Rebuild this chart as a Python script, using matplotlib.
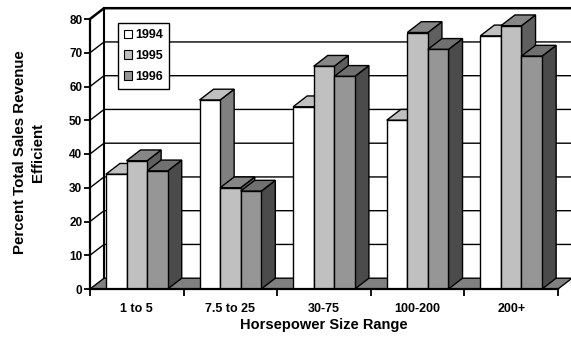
import matplotlib.pyplot as plt
from matplotlib.patches import Polygon, Patch

plt.rcParams['font.family'] = ['Liberation Sans', 'DejaVu Sans']
plt.rcParams['font.weight'] = 'bold'

# data
categories = ['1 to 5', '7.5 to 25', '30-75', '100-200', '200+']
years = ['1994', '1995', '1996']
v1994 = [34, 56, 54, 50, 75]
v1995 = [38, 30, 66, 76, 78]
v1996 = [35, 29, 63, 71, 69]
series = [v1994, v1995, v1996]
yticks = [0, 10, 20, 30, 40, 50, 60, 70, 80]

front_col = ['#ffffff', '#c0c0c0', '#969696']
top_col = ['#c0c0c0', '#868686', '#707070']
side_col = ['#808080', '#5f5f5f', '#4b4b4b']

DX = 0.15   # depth offset in category units
DY = 3.2    # depth offset in value units
W = 0.22    # bar width

fig = plt.figure(figsize=(5.71, 3.37), dpi=100)
ax = fig.add_axes([90/571, 48/337, 468/571, 270/337])
ax.set_xlim(-0.5, 4.5)
ax.set_ylim(0, 80)

x0, x1 = -0.5, len(categories) - 0.5

# back wall
ax.add_patch(Polygon([(x0+DX, DY), (x1+DX, DY), (x1+DX, 80+DY), (x0+DX, 80+DY)],
                     closed=True, fc='white', ec='none', zorder=0.5, clip_on=False))
for v in yticks[1:-1]:
    ax.plot([x0, x0+DX, x1+DX], [v, v+DY, v+DY], color='black', lw=1.0,
            zorder=0.6, clip_on=False)
# top edge and back left edge
ax.plot([x0, x0+DX, x1+DX], [80, 80+DY, 80+DY], color='black', lw=1.8,
        zorder=0.7, clip_on=False)
ax.plot([x0+DX, x0+DX], [DY, 80+DY], color='black', lw=1.5, zorder=0.7, clip_on=False)

# floor
ax.add_patch(Polygon([(x0, 0), (x1, 0), (x1+DX, DY), (x0+DX, DY)],
                     closed=True, fc='#808080', ec='black', lw=1.0, zorder=0.8, clip_on=False))

# bars with fake depth
for i in range(len(categories)):
    for j, vals in enumerate(series):
        h = vals[i]
        xl = i - 1.5*W + j*W
        xr = xl + W
        z = 2 + (i*3 + j) * 0.01
        bar = ax.bar(xl, h, width=W, align='edge', color=front_col[j],
                     edgecolor='black', linewidth=1.0)[0]
        bar.set_zorder(z + 0.003)
        ax.add_patch(Polygon([(xr, 0), (xr+DX, DY), (xr+DX, h+DY), (xr, h)],
                             closed=True, fc=side_col[j], ec='black', lw=1.0,
                             zorder=z, clip_on=False))
        ax.add_patch(Polygon([(xl, h), (xr, h), (xr+DX, h+DY), (xl+DX, h+DY)],
                             closed=True, fc=top_col[j], ec='black', lw=1.0,
                             zorder=z + 0.001, clip_on=False))

# axes
for s in ['top', 'right']:
    ax.spines[s].set_visible(False)
ax.spines['left'].set_linewidth(1.6)
ax.spines['bottom'].set_linewidth(1.6)
ax.spines['left'].set_zorder(3)
ax.spines['bottom'].set_zorder(3)

ax.set_yticks(yticks)
ax.tick_params(axis='y', direction='out', length=4, width=1.3, pad=1.5, labelsize=8.5)
ax.set_xticks([k - 0.5 for k in range(len(categories) + 1)])
ax.set_xticklabels([])
ax.tick_params(axis='x', which='major', direction='out', length=5, width=1.3)
ax.set_xticks(range(len(categories)), minor=True)
ax.set_xticklabels(categories, minor=True)
ax.tick_params(axis='x', which='minor', length=0, pad=10, labelsize=9)

ax.set_xlabel('Horsepower Size Range', fontsize=10.5, fontweight='bold', labelpad=2)
fig.text(29/571, 1 - 152/337, 'Percent Total Sales Revenue\nEfficient', rotation=90,
         ha='center', va='center', multialignment='center', fontsize=10.8,
         fontweight='bold', linespacing=1.45)

handles = [Patch(fc=front_col[j], ec='black', lw=0.8) for j in range(3)]
leg = ax.legend(handles, years, loc='upper left', bbox_to_anchor=(0.06, 0.985),
                fancybox=False, edgecolor='black', framealpha=1, fontsize=9,
                handlelength=0.65, handleheight=0.65, handletextpad=0.2,
                labelspacing=0.7, borderpad=0.5, borderaxespad=0)
leg.get_frame().set_linewidth(1.0)
leg.set_zorder(10)

fig.savefig('out.png', dpi=100)
